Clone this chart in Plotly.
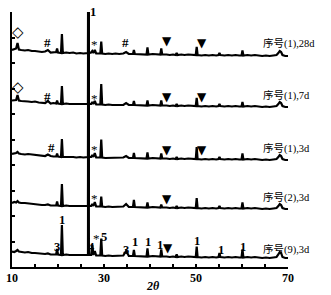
import plotly.graph_objects as go

# 2-theta grid (degrees)
two_theta = [
    10.0, 10.5, 10.9, 11.2, 11.5, 12.0, 12.8, 13.5, 14.3, 15.0,
    15.8, 16.5, 17.2, 17.8, 18.4, 19.0, 19.6, 19.8, 20.0, 20.65,
    20.85, 21.05, 21.8, 22.5, 23.3, 24.0, 24.8, 25.5, 26.52, 26.62,
    26.72, 27.2, 27.45, 27.7, 28.0, 28.3, 28.9, 29.2, 29.4, 29.6,
    30.3, 31.0, 31.8, 32.5, 33.3, 34.2, 34.8, 35.4, 36.3, 36.5,
    36.7, 37.6, 38.3, 39.25, 39.45, 39.65, 40.6, 41.3, 42.25, 42.45,
    42.65, 43.6, 44.3, 45.0, 45.6, 45.8, 46.0, 46.8, 47.5, 48.3,
    49.0, 49.95, 50.15, 50.35, 51.2, 52.0, 52.8, 53.6, 54.4, 54.9,
    55.1, 55.3, 56.2, 57.0, 57.8, 58.6, 59.4, 59.9, 60.1, 60.3,
    61.2, 62.0, 62.8, 63.6, 64.4, 65.2, 66.0, 66.8, 67.5, 67.9,
    68.2, 68.5, 68.8, 69.4, 70.0,
]

sample_names = ["序号(1),28d", "序号(1),7d", "序号(1),3d", "序号(2),3d", "序号(9),3d"]

i_s1_28d = [
    5, 6, 6.5, 12, 5.5, 5, 4.5, 5, 4, 4,
    3.5, 3, 3.5, 5, 2.5, 2.5, 3, 6.5, 2.5, 2,
    21, 2, 2.5, 2, 2.5, 1.5, 2, 1.5, 2, 300,
    2, 2.5, 4, 2, 5, 1.5, 1.5, 1.5, 13.5, 1.5,
    1, 1.5, 1, 1.5, 1, 1.5, 3, 1, 1, 5,
    1, 1, 0.5, 0.5, 7.5, 0.5, 1, 0.5, 0.5, 6.5,
    0.5, 0.5, 0, 0.5, 0, 2, 0, 0.5, 0, 0.5,
    0, 0, 8, 0, -0.5, 0, -0.5, 0, -0.5, 0,
    2, 0, -0.5, 0, -0.5, 0, -0.5, -0.5, 4.5, -0.5,
    0, -0.5, 0, -0.5, -1, -0.5, -1, -0.5, 0, 2,
    4, 3, 0, -1, -1,
]
i_s1_7d = [
    5.5, 6, 6, 11, 5.5, 5, 5, 4.5, 4, 4.5,
    3.5, 3.5, 3, 5, 2.5, 3, 2.5, 5.5, 2.5, 2,
    20, 2, 2.5, 2, 2, 2, 1.5, 1.5, 2, 300,
    2, 2, 4, 2, 5, 1.5, 1.5, 1.5, 22, 1.5,
    1, 1.5, 1, 1, 1.5, 1, 3, 1, 1, 5,
    1, 1, 0.5, 0.5, 5.5, 0.5, 1, 0.5, 0.5, 5.5,
    0.5, 0.5, 0, 0.5, 0, 2, 0, 0.5, 0, 0.5,
    0, 0, 8, 0, -0.5, 0, -0.5, 0, -0.5, 0,
    2, 0, -0.5, 0, -0.5, 0, -0.5, -0.5, 4, -0.5,
    0, -0.5, 0, -0.5, -1, -0.5, -1, -0.5, 0, 2,
    4, 3, 0, -1, -1,
]
i_s1_3d = [
    5, 5.5, 6, 7, 5.5, 5, 4.5, 5, 4.5, 4,
    3.5, 3, 3, 4.5, 3, 2.5, 2.5, 5.5, 2.5, 2,
    20, 2, 2, 2.5, 2, 1.5, 2, 1.5, 2, 300,
    2, 2, 4, 2, 6, 1.5, 1.5, 1.5, 19.5, 1.5,
    1, 1, 1.5, 1, 1, 1.5, 3, 1, 1, 6,
    1, 1, 0.5, 0.5, 6.5, 0.5, 1, 0.5, 0.5, 5.5,
    0.5, 0.5, 0, 0.5, 0, 2, 0, 0.5, 0, 0.5,
    0, 0, 12, 0, -0.5, 0, -0.5, 0, -0.5, 0,
    2, 0, -0.5, 0, -0.5, 0, -0.5, -0.5, 5.5, -0.5,
    0, -0.5, 0, -0.5, -1, -0.5, -1, -0.5, 0, 2,
    4, 3, 0, -1, -1,
]
i_s2_3d = [
    5, 6, 5.5, 7, 5.5, 5, 5, 4.5, 4, 4,
    3.5, 3, 3, 3.5, 2.5, 2.5, 2.5, 6.5, 2.5, 2,
    24, 2, 2.5, 2, 2, 1.5, 2, 1.5, 2, 300,
    2, 2, 4, 2, 6, 1.5, 1.5, 1.5, 11.5, 1.5,
    1, 1.5, 1, 1, 1, 1.5, 4, 1, 1, 8,
    1, 1, 0.5, 0.5, 5.5, 0.5, 1, 0.5, 0.5, 3.5,
    0.5, 0.5, 0, 0.5, 0, 2, 0, 0.5, 0, 0.5,
    0, 0, 10, 0, -0.5, 0, -0.5, 0, -0.5, 0,
    2, 0, -0.5, 0, -0.5, 0, -0.5, -0.5, 5.5, -0.5,
    0, -0.5, 0, -0.5, -1, -0.5, -1, -0.5, 0, 2,
    4, 3, 0, -1, -1,
]
i_s9_3d = [
    5.5, 5, 6, 7, 5.5, 5, 4.5, 5, 4, 4,
    3.5, 3, 3, 3.5, 2.5, 2.5, 2.5, 8, 2.5, 2,
    32, 2, 2.5, 2, 2, 1.5, 2, 1.5, 2, 300,
    2, 2, 12, 2, 6, 1.5, 1.5, 1.5, 18.5, 1.5,
    1, 1.5, 1, 1, 1, 1.5, 6, 1, 1, 7,
    1, 1, 0.5, 0.5, 8.5, 0.5, 1, 0.5, 0.5, 7.5,
    0.5, 0.5, 0, 0.5, 0, 2.5, 0, 0.5, 0, 0.5,
    0, 0, 10.5, 0, -0.5, 0, -0.5, 0, -0.5, 0,
    4, 0, -0.5, 0, -0.5, 0, -0.5, -0.5, 7.5, -0.5,
    0, -0.5, 0, -0.5, -1, -0.5, -1, -0.5, 0, 2.5,
    5, 4, 0, -1, -1,
]
intensities = [i_s1_28d, i_s1_7d, i_s1_3d, i_s2_3d, i_s9_3d]
offsets = [212, 161, 108, 59, 10]

label_x = 64.1
label_y = [224, 172, 119, 70, 18]

mark_text = ["◇", "#", "*", "#", "▼", "▼", "1",
             "◇", "#", "*", "▼", "▼",
             "#", "*", "▼", "▼",
             "*", "▼",
             "3", "1", "4", "*", "5", "3", "1", "1", "1", "▼", "1", "1", "1"]
mark_x = [11.3, 17.8, 28.0, 34.6, 43.7, 51.3, 27.5,
          11.3, 17.8, 28.0, 43.7, 51.3,
          18.5, 28.0, 43.7, 51.3,
          28.0, 43.7,
          19.8, 20.9, 27.2, 28.35, 29.9, 34.8, 36.7, 39.6, 42.2, 43.9, 50.2, 55.4, 60.2]
mark_y = [235, 225, 223, 225, 226, 224, 255,
          180, 171, 169, 170, 170,
          120, 118, 117, 117,
          69, 68,
          20, 47, 20, 29, 30, 17, 25, 25, 22, 19, 26, 17, 20]

x_tick_vals = [10, 15, 20, 25, 30, 35, 40, 45, 50, 55, 60, 65, 70]
x_label_vals = [10, 30, 50, 70]
x_label_text = ["10", "30", "50", "70"]
y_tick_vals = [0, 25.5, 51, 76.5, 102, 127.5, 153, 178.5, 204, 229.5, 255]

for name, inten in zip(sample_names, intensities):
    assert len(inten) == len(two_theta), name

SERIF = "Liberation Serif, Times New Roman, Noto Sans CJK SC, serif"

fig = go.Figure()
for name, inten, off in zip(sample_names, intensities, offsets):
    fig.add_trace(go.Scatter(
        x=two_theta, y=[v + off for v in inten], mode="lines",
        line=dict(color="black", width=2.2), name=name, showlegend=False,
        hoverinfo="skip"))

for name, y in zip(sample_names, label_y):
    fig.add_annotation(x=label_x, y=y, text=name, showarrow=False,
                       xanchor="left", yanchor="middle",
                       font=dict(family=SERIF, size=10.5, color="black"))

sym_font = {
    "◇": dict(family="DejaVu Sans", size=15, color="black"),
    "▼": dict(family="DejaVu Sans", size=12, color="black"),
    "#": dict(family=SERIF, size=13, color="black", weight="bold"),
    "*": dict(family=SERIF, size=13, color="black"),
}
for t, x, y in zip(mark_text, mark_x, mark_y):
    f = sym_font.get(t, dict(family=SERIF, size=12.5, color="black", weight="bold"))
    fig.add_annotation(x=x, y=y, text=t,
                       showarrow=False, xanchor="center", yanchor="middle",
                       font=f)

for v, t in zip(x_label_vals, x_label_text):
    fig.add_annotation(x=v, xref="x", yref="paper", y=-0.042, text=t,
                       showarrow=False, xanchor="center", yanchor="middle",
                       font=dict(family=SERIF, size=12, color="black", weight="bold"))

fig.add_annotation(xref="paper", yref="paper", x=0.51, y=-0.075,
                   text="<b><i>2θ</i></b>", showarrow=False,
                   xanchor="center", yanchor="middle",
                   font=dict(family=SERIF, size=12, color="black"))

fig.update_layout(
    width=331, height=295,
    margin=dict(l=12, r=43, t=12, b=28),
    paper_bgcolor="white", plot_bgcolor="white",
    showlegend=False,
    xaxis=dict(range=[10, 70], tickvals=x_tick_vals, showticklabels=False,
               ticks="inside", ticklen=3, tickwidth=1.5, tickcolor="black",
               showline=True, linecolor="black", linewidth=1.5,
               showgrid=False, zeroline=False),
    yaxis=dict(range=[0, 255], tickvals=y_tick_vals, showticklabels=False,
               ticks="inside", ticklen=3, tickwidth=1.5, tickcolor="black",
               showline=True, linecolor="black", linewidth=1.5,
               showgrid=False, zeroline=False),
)

fig.write_html("out.html")
